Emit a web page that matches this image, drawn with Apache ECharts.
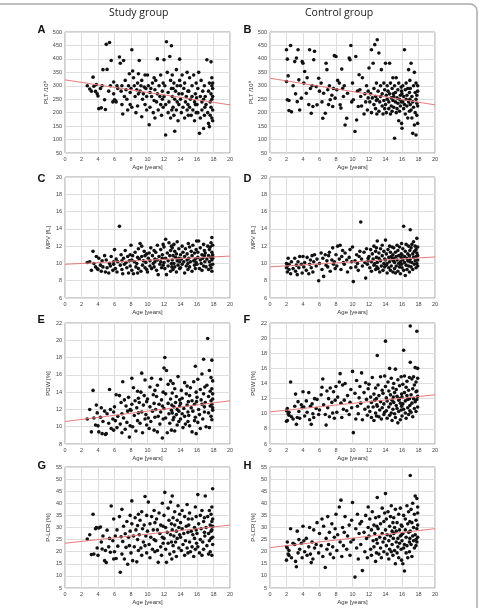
<!DOCTYPE html>
<html>
<head>
<meta charset="utf-8">
<script src="https://cdn.jsdelivr.net/npm/echarts@6/dist/echarts.min.js"></script>
<style>
  html, body { margin: 0; padding: 0; background: #fff; }
  #main { width: 480px; height: 608px; }
</style>
</head>
<body>
<div id="main"></div>
<script>
// ages (years), study group - shared by panels A, C, E, G
var studyAge = [
  2.7, 3.0, 3.2, 3.4, 3.5, 3.7, 3.8, 3.9,
  4.0, 4.1, 4.3, 4.4, 4.5, 4.6, 4.8, 4.9,
  5.0, 5.1, 5.3, 5.4, 5.5, 5.6, 5.8, 5.9, 5.9,
  6.0, 6.1, 6.2, 6.3, 6.4, 6.6, 6.7, 6.8, 6.9, 6.9,
  7.0, 7.1, 7.2, 7.3, 7.4, 7.5, 7.6, 7.7, 7.8, 7.9, 7.9,
  8.0, 8.1, 8.1, 8.2, 8.3, 8.4, 8.5, 8.6, 8.7, 8.8, 8.8, 8.9, 8.9,
  9.0, 9.1, 9.2, 9.3, 9.3, 9.4, 9.5, 9.6, 9.7, 9.7, 9.8, 9.9, 9.9,
  10.0, 10.1, 10.2, 10.3, 10.3, 10.4, 10.5, 10.6, 10.7, 10.8, 10.8, 10.9, 10.9,
  11.0, 11.1, 11.2, 11.2, 11.3, 11.4, 11.5, 11.6, 11.6, 11.7, 11.8, 11.8, 11.9, 11.9,
  12.0, 12.0, 12.1, 12.2, 12.2, 12.3, 12.4, 12.5, 12.5, 12.6, 12.7, 12.8, 12.8, 12.9, 12.9, 12.95,
  13.0, 13.0, 13.1, 13.1, 13.2, 13.2, 13.3, 13.3, 13.4, 13.5, 13.5, 13.6, 13.6, 13.7, 13.8, 13.8, 13.9, 13.9,
  14.0, 14.0, 14.1, 14.2, 14.2, 14.3, 14.4, 14.5, 14.5, 14.6, 14.7, 14.8, 14.8, 14.9, 14.9, 14.95,
  15.0, 15.1, 15.1, 15.2, 15.3, 15.4, 15.4, 15.5, 15.6, 15.7, 15.7, 15.8, 15.8, 15.9, 15.9, 15.95,
  16.0, 16.1, 16.1, 16.2, 16.3, 16.4, 16.4, 16.5, 16.6, 16.6, 16.7, 16.8, 16.8, 16.9, 16.9, 16.95,
  17.0, 17.1, 17.2, 17.3, 17.4, 17.4, 17.5, 17.5, 17.6, 17.6, 17.7, 17.7, 17.7, 17.8, 17.8, 17.8, 17.8, 17.9, 17.9, 17.9, 17.9, 17.9
];
var studyPLT = [
  300, 288, 280, 332, 298, 279, 305, 270,
  262, 215, 290, 218, 300, 360, 248, 212,
  454, 361, 280, 461, 300, 394, 240, 314, 270,
  248, 245, 240, 300, 290, 407, 384, 280, 300, 230,
  195, 394, 260, 320, 285, 250, 210, 300, 345, 230, 275,
  290, 434, 220, 355, 330, 300, 260, 200, 285, 310, 225, 270, 345,
  394, 280, 300, 185, 320, 250, 270, 295, 230, 340, 290, 210, 260,
  340, 300, 155, 275, 220, 290, 260, 310, 200, 330, 245, 180, 285,
  320, 240, 270, 400, 210, 300, 260, 230, 340, 190, 280, 250, 310, 220,
  397, 260, 300, 117, 230, 464, 350, 200, 275, 240, 409, 320, 180, 449, 290, 210,
  260, 340, 220, 290, 190, 310, 131, 250, 280, 360, 210, 240, 300, 170, 270, 230, 399, 320,
  250, 300, 200, 340, 270, 220, 290, 180, 310, 240, 260, 350, 210, 280, 230, 190,
  280, 220, 330, 250, 190, 300, 260, 210, 340, 240, 170, 270, 230, 310, 200, 255,
  230, 290, 200, 350, 123, 260, 180, 320, 240, 210, 280, 141, 250, 190, 300, 220,
  260, 230, 397, 200, 280, 160, 148, 310, 240, 190, 389, 270, 220, 300, 250, 180, 330, 290, 170, 260, 210, 310
];
var studyMPV = [
  10.1, 10.2, 9.2, 11.4, 10.0, 9.6, 10.8, 9.4,
  9.3, 10.6, 9.8, 9.1, 10.3, 9.6, 10.9, 9.0,
  10.4, 9.5, 8.9, 10.0, 9.7, 10.8, 9.2, 10.2, 9.9,
  11.6, 9.4, 10.5, 9.0, 10.2, 14.3, 9.8, 11.0, 10.3, 9.3,
  8.8, 10.6, 9.9, 11.5, 10.1, 9.5, 10.8, 8.9, 10.3, 9.7, 11.0,
  12.1, 10.4, 9.2, 10.9, 8.8, 10.2, 11.3, 9.6, 10.0, 8.9, 10.7, 9.4, 11.7,
  10.5, 12.3, 9.1, 10.8, 12.0, 9.8, 10.3, 11.4, 9.5, 10.9, 10.1, 9.3, 11.1,
  9.0, 10.6, 11.2, 9.7, 10.3, 11.8, 9.4, 10.9, 10.0, 11.5, 9.6, 10.5, 10.2,
  11.3, 9.2, 10.4, 12.1, 8.7, 10.8, 9.9, 11.6, 10.2, 9.5, 11.0, 10.6, 12.2, 9.8,
  10.1, 11.9, 9.4, 12.8, 10.6, 8.7, 11.2, 10.3, 9.7, 12.4, 10.9, 9.1, 11.5, 10.0, 12.0, 9.6,
  10.4, 11.8, 9.3, 10.9, 12.2, 10.0, 9.6, 11.4, 10.7, 9.0, 11.1, 10.3, 12.5, 9.8, 10.6, 11.7, 9.4, 10.2,
  11.0, 9.5, 10.5, 12.0, 9.9, 11.3, 10.2, 8.9, 10.8, 11.7, 9.7, 10.4, 11.1, 10.0, 9.3, 12.3,
  10.6, 11.9, 9.6, 10.2, 11.4, 9.1, 10.9, 12.1, 10.3, 9.8, 11.2, 10.5, 9.4, 11.6, 10.1, 12.6,
  9.9, 11.3, 10.7, 12.6, 9.4, 10.4, 11.8, 10.0, 9.2, 11.0, 10.6, 12.2, 9.7, 10.9, 11.5, 10.2,
  11.2, 9.6, 10.5, 12.0, 10.9, 9.3, 11.6, 10.2, 9.8, 11.9, 10.7, 12.4, 9.5, 11.3, 10.4, 9.1, 13.0, 11.0, 10.6, 12.1, 9.9, 10.8
];
var studyPDW = [
  10.9, 12.0, 9.4, 14.2, 11.0, 10.2, 12.5, 11.6,
  10.1, 9.4, 11.1, 12.2, 9.2, 10.6, 11.8, 9.1,
  9.2, 11.5, 10.4, 14.3, 12.0, 9.8, 10.9, 11.7, 9.6,
  12.3, 10.7, 13.7, 9.9, 11.2, 13.6, 10.3, 12.8, 9.3, 11.5,
  15.2, 11.0, 13.1, 9.7, 12.4, 10.5, 11.8, 13.4, 8.8, 12.0, 10.1,
  11.9, 15.6, 12.6, 10.0, 14.5, 11.3, 13.0, 9.5, 12.2, 14.1, 10.7, 11.6, 13.3,
  12.8, 10.4, 14.0, 11.7, 16.2, 9.3, 12.5, 13.6, 10.9, 15.4, 11.4, 12.9, 10.2,
  13.2, 11.0, 9.8, 14.6, 12.3, 10.6, 15.6, 11.8, 13.7, 9.6, 12.7, 11.1, 14.2,
  12.0, 13.5, 9.4, 14.8, 11.2, 12.6, 10.3, 15.5, 11.7, 13.1, 8.7, 12.4, 14.0, 10.9,
  16.8, 12.1, 18.0, 11.0, 13.8, 16.5, 9.3, 12.7, 14.9, 11.5, 10.4, 13.2, 15.3, 11.9, 9.6, 12.5,
  11.6, 13.9, 10.8, 15.0, 12.3, 11.1, 14.4, 9.5, 12.8, 11.4, 13.5, 10.2, 12.0, 15.8, 11.8, 10.6, 13.1, 12.4,
  12.7, 10.9, 14.2, 11.5, 13.3, 9.9, 12.1, 15.1, 11.2, 10.3, 13.8, 12.5, 14.7, 11.7, 10.6, 12.9,
  11.3, 13.6, 10.1, 14.5, 12.2, 9.4, 13.0, 11.8, 15.2, 10.7, 12.6, 17.0, 11.1, 14.0, 9.2, 12.9,
  13.4, 10.5, 15.5, 12.0, 11.4, 14.3, 9.8, 13.1, 12.6, 16.1, 10.9, 13.8, 17.8, 11.7, 12.3, 14.6,
  12.8, 10.0, 14.8, 20.2, 11.6, 13.5, 9.9, 16.5, 12.4, 14.1, 11.2, 15.7, 13.0, 12.6, 17.7, 10.8, 14.4, 13.2, 11.9, 15.3, 12.2, 13.8
];
var studyPLCR = [
  25.2, 27.0, 18.8, 35.5, 19.0, 29.5, 30.0, 21.5,
  18.5, 29.8, 30.2, 24.0, 21.1, 26.5, 16.3, 20.5,
  15.5, 28.9, 22.0, 25.5, 19.8, 38.9, 24.5, 17.0, 33.5,
  20.0, 26.5, 17.2, 29.0, 22.3, 34.5, 11.5, 26.2, 19.0, 37.5,
  24.2, 30.5, 17.0, 27.4, 21.8, 32.5, 14.8, 26.0, 22.5, 35.0, 28.5,
  19.5, 41.0, 31.5, 16.3, 26.5, 22.0, 34.0, 29.0, 15.8, 30.8, 25.0, 20.5, 35.5,
  27.0, 33.0, 21.5, 36.5, 18.5, 29.5, 24.0, 31.0, 42.8, 22.5, 26.5, 35.0, 19.5,
  28.5, 40.5, 23.0, 31.5, 17.5, 26.0, 34.5, 21.0, 29.0, 25.0, 37.0, 20.0, 32.0,
  24.5, 33.5, 20.5, 29.0, 15.6, 36.0, 27.5, 22.0, 31.0, 18.5, 40.0, 26.0, 30.5, 23.5,
  35.0, 25.5, 44.5, 21.0, 30.0, 15.6, 28.0, 38.0, 23.5, 33.0, 19.0, 27.0, 40.5, 24.0, 31.5, 17.0,
  29.0, 43.0, 22.5, 34.0, 26.5, 20.0, 31.0, 36.5, 24.0, 28.5, 18.0, 33.0, 25.5, 39.0, 21.5, 30.0, 27.0, 35.5,
  26.0, 32.0, 20.5, 29.5, 37.0, 23.0, 27.5, 18.5, 34.5, 24.5, 30.5, 21.5, 39.5, 28.0, 19.5, 33.5,
  31.0, 24.0, 36.0, 20.0, 28.5, 33.5, 22.0, 27.0, 18.0, 30.0, 25.5, 38.5, 21.0, 29.0, 34.5, 23.5,
  27.5, 43.6, 22.0, 31.5, 19.5, 35.0, 25.0, 29.5, 18.5, 37.0, 24.0, 32.5, 21.0, 28.0, 34.0, 26.5,
  43.0, 30.0, 22.5, 34.5, 19.0, 27.5, 37.0, 24.5, 31.0, 20.0, 28.5, 35.5, 25.5, 32.5, 18.5, 29.0, 38.5, 26.0, 33.5, 46.0, 23.0, 30.5
];

// ages (years), control group - shared by panels B, D, F, H
var controlAge = [
  2.0, 2.0, 2.1, 2.1, 2.2, 2.3, 2.3, 2.5, 2.6, 2.8,
  3.0, 3.1, 3.2, 3.3, 3.4, 3.5, 3.6, 3.8, 3.9,
  4.0, 4.1, 4.2, 4.4, 4.5, 4.7, 4.8, 4.9,
  5.0, 5.1, 5.2, 5.3, 5.4, 5.6, 5.7, 5.9,
  6.0, 6.2, 6.3, 6.4, 6.5, 6.7, 6.8, 6.9,
  7.0, 7.1, 7.2, 7.3, 7.5, 7.6, 7.7, 7.8, 7.9,
  8.0, 8.1, 8.2, 8.4, 8.5, 8.6, 8.7, 8.8, 8.9,
  9.0, 9.1, 9.3, 9.4, 9.6, 9.7, 9.8, 9.9,
  10.0, 10.1, 10.3, 10.4, 10.5, 10.6, 10.7, 10.8, 10.9,
  11.0, 11.1, 11.2, 11.4, 11.5, 11.6, 11.7, 11.8, 11.9, 11.9,
  12.0, 12.1, 12.2, 12.3, 12.3, 12.4, 12.5, 12.6, 12.6, 12.7, 12.8, 12.8, 12.9, 12.9, 12.95,
  13.0, 13.0, 13.1, 13.2, 13.2, 13.3, 13.4, 13.4, 13.5, 13.6, 13.6, 13.7, 13.8, 13.8, 13.9, 13.9,
  14.0, 14.0, 14.1, 14.1, 14.2, 14.2, 14.3, 14.4, 14.4, 14.5, 14.5, 14.6, 14.6, 14.7, 14.7, 14.8, 14.8, 14.9, 14.9, 14.95,
  15.0, 15.0, 15.1, 15.1, 15.2, 15.2, 15.3, 15.3, 15.4, 15.4, 15.5, 15.5, 15.6, 15.6, 15.7, 15.7, 15.8, 15.8, 15.9, 15.9, 15.95, 15.95,
  16.0, 16.0, 16.1, 16.1, 16.2, 16.2, 16.3, 16.3, 16.4, 16.4, 16.5, 16.5, 16.6, 16.6, 16.7, 16.7, 16.8, 16.8, 16.9, 16.9, 16.95, 16.95,
  17.0, 17.0, 17.1, 17.1, 17.2, 17.2, 17.3, 17.3, 17.4, 17.4, 17.5, 17.5, 17.6, 17.6, 17.7, 17.7, 17.7, 17.8, 17.8, 17.8, 17.9, 17.9, 17.9, 17.9
];
var controlPLT = [
  434, 316, 399, 248, 337, 245, 208, 450, 203, 300,
  390, 270, 403, 241, 434, 322, 210, 254, 390,
  384, 310, 353, 272, 330, 230, 434, 290,
  198, 300, 223, 397, 428, 297, 229, 328,
  280, 310, 240, 179, 272, 198, 384, 360,
  285, 230, 300, 248, 265, 223, 290, 412, 254,
  409, 285, 320, 310, 229, 217, 362, 290, 260,
  300, 154, 179, 272, 403, 397, 450, 240,
  310, 248, 130, 409, 173, 280, 223, 341, 285,
  260, 225, 330, 195, 270, 240, 300, 210, 255, 280,
  366, 240, 270, 434, 200, 255, 384, 230, 290, 453, 215, 260, 310, 245, 195,
  471, 250, 280, 422, 205, 240, 300, 260, 360, 225, 270, 195, 310, 245, 285, 215,
  384, 230, 265, 200, 300, 250, 280, 215, 240, 384, 270, 195, 310, 225, 255, 290, 205, 330, 245, 270,
  260, 220, 105, 300, 240, 275, 200, 330, 255, 215, 285, 235, 170, 310, 250, 205, 265, 225, 295, 240, 160, 280,
  142, 270, 240, 300, 215, 260, 434, 230, 285, 195, 250, 310, 225, 265, 180, 290, 240, 360, 205, 275, 250, 320,
  230, 290, 210, 384, 260, 180, 240, 123, 300, 220, 350, 154, 275, 200, 250, 117, 310, 235, 265, 190, 280, 160, 225, 300
];
var controlMPV = [
  9.5, 10.0, 9.0, 9.7, 10.6, 9.3, 9.9, 8.8, 10.2, 9.4,
  10.6, 9.1, 9.8, 8.7, 10.2, 9.5, 10.8, 9.9, 8.9,
  10.8, 9.6, 10.1, 9.2, 10.7, 8.8, 9.9, 10.4,
  9.5, 10.9, 9.0, 10.2, 11.0, 9.7, 10.5, 8.0,
  10.0, 11.2, 9.3, 10.6, 8.5, 11.0, 9.8, 10.3,
  9.6, 10.9, 11.3, 9.1, 10.4, 11.8, 9.9, 10.2, 9.4,
  11.0, 9.7, 12.0, 10.5, 12.1, 9.3, 10.8, 11.5, 10.1,
  9.9, 11.2, 10.4, 9.0, 10.7, 11.6, 9.5, 10.2,
  11.9, 7.9, 10.3, 9.6, 11.0, 10.0, 9.2, 10.8, 11.4,
  14.8, 10.5, 9.7, 11.3, 10.1, 8.3, 11.7, 9.9, 10.6, 10.3,
  10.8, 9.5, 11.6, 10.2, 9.1, 11.1, 10.5, 9.8, 12.0, 10.0, 11.4, 9.3, 10.7, 11.8, 9.6,
  12.6, 10.1, 9.4, 11.2, 10.6, 9.0, 11.7, 10.3, 9.7, 12.1, 10.9, 9.2, 11.4, 10.0, 10.5, 9.6,
  12.7, 10.4, 9.8, 11.1, 10.0, 8.9, 11.6, 10.7, 9.5, 12.0, 10.2, 9.2, 11.3, 10.8, 9.7, 11.9, 10.5, 9.0, 11.0, 10.3,
  10.6, 11.8, 9.4, 10.1, 11.3, 8.9, 10.8, 9.7, 12.1, 10.4, 9.1, 11.5, 10.0, 10.9, 9.6, 11.9, 10.2, 8.8, 11.1, 10.7, 9.9, 12.3,
  11.0, 9.5, 10.4, 11.7, 9.2, 14.3, 10.8, 10.1, 8.6, 11.4, 9.8, 12.2, 10.6, 9.3, 11.1, 10.3, 9.7, 12.0, 10.9, 9.0, 11.5, 10.2,
  13.9, 10.5, 11.8, 9.6, 12.2, 10.1, 11.1, 9.3, 12.5, 10.7, 9.9, 11.4, 10.3, 12.0, 9.5, 11.6, 10.8, 12.9, 10.0, 11.2, 9.7, 11.9, 10.4, 10.9
];
var controlPDW = [
  9.0, 10.4, 10.7, 9.1, 10.0, 10.2, 9.8, 14.2, 9.6, 9.3,
  11.0, 12.6, 8.6, 9.5, 11.6, 10.3, 9.4, 11.2, 10.8,
  12.9, 10.9, 9.7, 11.7, 10.2, 12.8, 9.2, 11.0,
  8.6, 11.3, 10.0, 9.5, 12.0, 10.7, 11.9, 9.9,
  10.5, 12.5, 13.5, 14.6, 11.2, 9.9, 8.5, 13.0,
  10.8, 12.0, 9.6, 13.4, 11.5, 10.1, 12.9, 9.4, 11.8,
  13.6, 10.2, 12.2, 14.2, 15.3, 11.4, 9.5, 13.8, 10.6,
  11.8, 14.0, 10.4, 12.4, 9.9, 11.5, 13.2, 10.8,
  15.6, 7.5, 12.7, 9.3, 14.4, 11.0, 10.0, 12.1, 13.6,
  11.4, 15.4, 9.2, 12.8, 10.6, 14.1, 11.9, 9.8, 13.3, 10.9,
  13.9, 10.3, 12.2, 9.5, 11.5, 14.8, 10.9, 12.6, 9.1, 11.8, 13.4, 10.1, 12.0, 9.7, 11.2,
  17.7, 11.0, 13.8, 9.6, 12.4, 10.5, 14.9, 11.6, 9.3, 13.1, 10.8, 12.7, 9.9, 11.3, 15.0, 10.2,
  13.6, 19.6, 10.4, 12.1, 9.4, 11.7, 14.2, 10.9, 13.0, 9.8, 16.0, 11.3, 12.5, 10.1, 14.7, 11.8, 9.1, 13.4, 10.6, 12.2,
  11.5, 14.0, 10.0, 12.8, 9.5, 15.9, 11.1, 13.2, 10.7, 12.3, 8.8, 14.5, 11.8, 10.3, 13.7, 12.0, 9.2, 11.4, 14.9, 10.5, 12.6, 11.0,
  12.2, 9.7, 13.9, 11.3, 18.4, 10.6, 12.8, 15.0, 10.1, 11.7, 13.5, 9.4, 12.4, 14.3, 10.8, 11.9, 13.1, 9.9, 12.0, 14.8, 11.1, 10.4,
  21.6, 16.8, 12.5, 10.2, 14.6, 11.4, 13.3, 9.6, 12.0, 14.9, 10.7, 13.8, 11.6, 16.1, 12.9, 10.3, 14.2, 20.9, 11.9, 13.0, 10.9, 16.0, 12.3, 14.7
];
var controlPLCR = [
  16.5, 22.0, 21.5, 24.0, 19.0, 18.5, 20.5, 29.5, 17.5, 23.5,
  23.0, 16.0, 13.8, 28.5, 19.5, 25.0, 21.0, 23.5, 17.5,
  30.5, 24.5, 20.0, 25.5, 18.5, 22.0, 30.0, 19.0,
  15.5, 24.0, 17.0, 29.0, 21.5, 23.0, 32.0, 19.5,
  27.5, 22.5, 33.5, 18.0, 30.5, 13.5, 25.5, 21.0,
  34.5, 23.0, 28.0, 19.0, 31.5, 22.0, 17.5, 26.0, 29.5,
  35.5, 20.5, 27.0, 38.5, 24.0, 41.3, 18.0, 30.0, 22.5,
  28.0, 34.5, 21.0, 26.5, 31.0, 18.5, 24.0, 33.0,
  40.3, 25.0, 9.5, 29.5, 21.5, 35.5, 17.0, 27.5, 31.5,
  23.0, 32.5, 12.2, 28.0, 20.0, 35.0, 25.5, 17.5, 38.5, 30.0,
  26.5, 33.5, 21.0, 29.0, 18.5, 36.5, 24.5, 31.0, 22.0, 27.5, 16.0, 34.0, 25.0, 19.5, 30.5,
  42.4, 23.5, 29.5, 19.0, 34.5, 26.0, 21.5, 31.5, 17.5, 27.5, 38.0, 24.0, 20.0, 32.5, 25.5, 36.0,
  29.0, 44.0, 22.5, 33.5, 19.0, 27.0, 36.5, 24.5, 17.0, 30.5, 21.0, 34.5, 26.5, 39.0, 20.0, 28.5, 23.0, 32.0, 18.5, 25.5,
  27.5, 34.0, 20.5, 30.0, 15.0, 37.5, 24.0, 28.5, 19.5, 32.0, 25.5, 22.0, 35.5, 17.5, 29.0, 23.5, 38.0, 26.5, 21.0, 31.0, 16.5, 27.0,
  24.5, 30.5, 15.0, 27.5, 21.5, 35.0, 23.0, 12.0, 29.0, 33.5, 19.5, 26.0, 39.0, 22.5, 31.5, 17.5, 28.0, 36.5, 24.0, 20.0, 32.5, 25.5,
  51.5, 28.5, 37.5, 23.0, 32.0, 18.0, 26.5, 40.0, 24.5, 30.0, 21.5, 35.5, 27.0, 43.0, 25.0, 33.0, 22.5, 42.0, 29.5, 24.0, 38.5, 31.0, 26.0, 36.0
];

// regression line values at age 0 and age 20
var fitA = [322, 229], fitB = [328, 229];
var fitC = [9.9, 10.85], fitD = [9.6, 10.75];
var fitE = [10.6, 13.0], fitF = [10.25, 12.5];
var fitG = [23.5, 31.0], fitH = [21.7, 29.5];

var groupTitles = ['Study group', 'Control group'];

// letter, column, row, ages, values, fit, y-axis name, min, max, step
var panels = [
  ['A', 0, 0, studyAge, studyPLT, fitA, 'PLT /10⁹', 50, 500, 50],
  ['B', 1, 0, controlAge, controlPLT, fitB, 'PLT /10⁹', 50, 500, 50],
  ['C', 0, 1, studyAge, studyMPV, fitC, 'MPV [fL]', 6, 20, 2],
  ['D', 1, 1, controlAge, controlMPV, fitD, 'MPV [fL]', 6, 20, 2],
  ['E', 0, 2, studyAge, studyPDW, fitE, 'PDW [%]', 8, 22, 2],
  ['F', 1, 2, controlAge, controlPDW, fitF, 'PDW [%]', 6, 22, 2],
  ['G', 0, 3, studyAge, studyPLCR, fitG, 'P-LCR [%]', 5, 55, 5],
  ['H', 1, 3, controlAge, controlPLCR, fitH, 'P-LCR [%]', 5, 55, 5]
];

var colLeft = [65, 270];
var rowTop = [32, 177, 323, 467];
var letterY = [30.5, 180, 321.3, 467];
var tickFont = 'Liberation Sans';

var grids = [], xAxes = [], yAxes = [], series = [], graphics = [];

graphics.push({
  type: 'rect', silent: true, z: 0,
  shape: { x: -10, y: 4, width: 487, height: 620, r: 7 },
  style: { fill: 'none', stroke: '#aaa', lineWidth: 1.5 }
});
graphics.push({
  type: 'text', left: 109, top: 8,
  style: { text: groupTitles[0], font: '10.5px "Open Sans"', fill: '#222' }
});
graphics.push({
  type: 'text', left: 305, top: 8,
  style: { text: groupTitles[1], font: '10.5px "Open Sans"', fill: '#222' }
});

panels.forEach(function (p, i) {
  var left = colLeft[p[1]], top = rowTop[p[2]];
  grids.push({
    left: left, top: top, width: 165, height: 121,
    show: true, borderColor: '#a0a0a0', borderWidth: 1, backgroundColor: '#fff'
  });
  xAxes.push({
    gridIndex: i, type: 'value', min: 0, max: 20, interval: 2,
    axisLine: { show: false }, axisTick: { show: false },
    splitLine: { lineStyle: { color: '#dedede', width: 1 } },
    axisLabel: { fontSize: 5.5, color: '#444', margin: 3, fontFamily: tickFont },
    name: 'Age [years]', nameLocation: 'middle', nameGap: 11,
    nameTextStyle: { fontSize: 6, color: '#333', fontFamily: tickFont }
  });
  yAxes.push({
    gridIndex: i, type: 'value', min: p[7], max: p[8], interval: p[9],
    axisLine: { show: false }, axisTick: { show: false },
    splitLine: { lineStyle: { color: '#dedede', width: 1 } },
    axisLabel: { fontSize: 5.5, color: '#444', margin: 3, fontFamily: tickFont },
    name: p[6], nameLocation: 'middle', nameGap: 14,
    nameTextStyle: { fontSize: 6, color: '#333', fontFamily: tickFont }
  });
  series.push({
    type: 'line', xAxisIndex: i, yAxisIndex: i, silent: true,
    data: [[0, p[5][0]], [20, p[5][1]]],
    showSymbol: false, lineStyle: { color: '#e87a7a', width: 1 }
  });
  series.push({
    type: 'scatter', xAxisIndex: i, yAxisIndex: i, silent: true,
    data: p[3].map(function (a, k) { return [a, p[4][k]]; }),
    symbol: 'circle', symbolSize: 3.6,
    itemStyle: { color: '#111', opacity: 1 }
  });
  graphics.push({
    type: 'text', left: p[1] ? 243.5 : 37.5, top: letterY[p[2]] - 6.5,
    style: { text: p[0], font: 'bold 11px "Liberation Sans"', fill: '#111' }
  });
});

var myChart = echarts.init(document.getElementById('main'));
myChart.setOption({
  animation: false,
  backgroundColor: '#fff',
  grid: grids,
  xAxis: xAxes,
  yAxis: yAxes,
  series: series,
  graphic: graphics
});
</script>
</body>
</html>
